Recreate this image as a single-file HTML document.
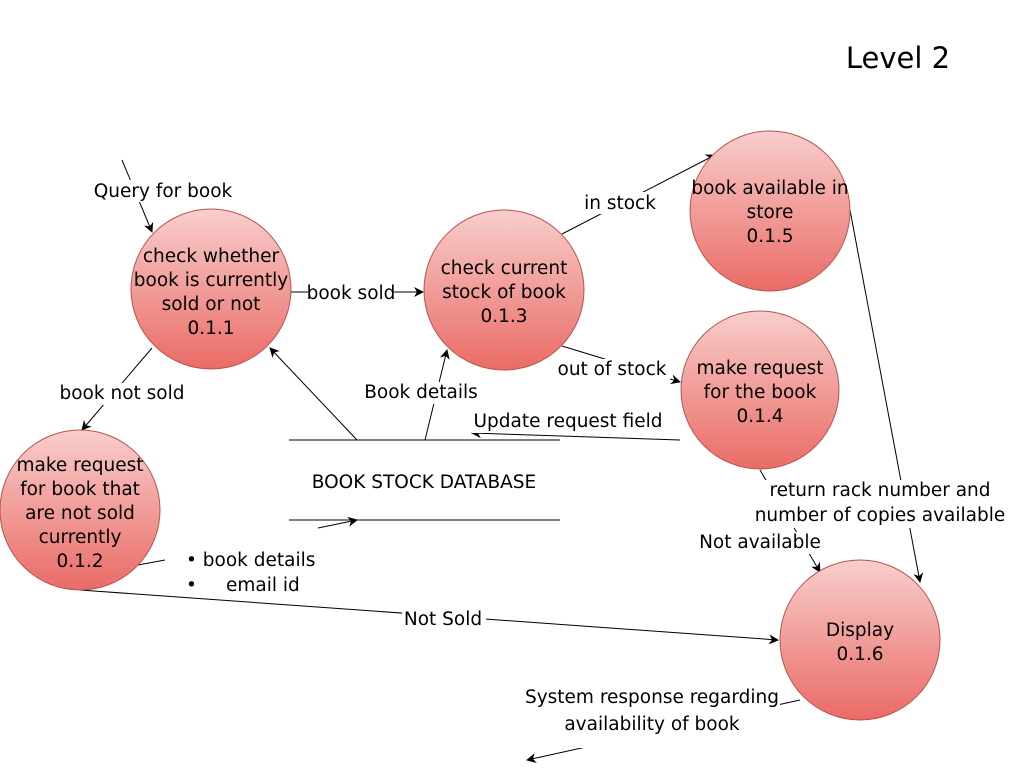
<!DOCTYPE html>
<html><head><meta charset="utf-8"><style>
html,body{margin:0;padding:0;background:#fff;}
svg{display:block;}
text{font-family:"DejaVu Sans","Liberation Sans",sans-serif;font-size:18.5px;fill:#000;}
</style></head><body>
<svg width="1010" height="770" viewBox="0 0 1010 770" xmlns="http://www.w3.org/2000/svg">
<defs>
<linearGradient id="g" x1="0" y1="0" x2="0" y2="1">
<stop offset="0" stop-color="#f8cecc"/><stop offset="1" stop-color="#ea6b66"/>
</linearGradient>
<marker id="a" markerWidth="10" markerHeight="10" refX="9" refY="5" orient="auto" markerUnits="userSpaceOnUse">
<path d="M0,0 L10,5 L0,10 L3,5 z" fill="#000"/>
</marker>
</defs>
<g stroke="#000" stroke-width="1" fill="none">
<line x1="122" y1="160" x2="152" y2="232" marker-end="url(#a)"/>
<line x1="291" y1="292" x2="423" y2="292" marker-end="url(#a)"/>
<line x1="562" y1="234" x2="715" y2="155" marker-end="url(#a)"/>
<line x1="562" y1="346" x2="680" y2="382" marker-end="url(#a)"/>
<line x1="152" y1="348" x2="82" y2="430" marker-end="url(#a)"/>
<line x1="289" y1="440" x2="560" y2="440"/>
<line x1="289" y1="520" x2="560" y2="520"/>
<line x1="357" y1="440" x2="270" y2="348" marker-end="url(#a)"/>
<line x1="425" y1="440" x2="447" y2="350" marker-end="url(#a)"/>
<line x1="680" y1="440" x2="472" y2="433" marker-end="url(#a)"/>
<line x1="318" y1="528" x2="357" y2="520" marker-end="url(#a)"/>
<line x1="138" y1="565" x2="165" y2="560"/>
<line x1="80" y1="590" x2="778" y2="640" marker-end="url(#a)"/>
<line x1="850" y1="210" x2="920" y2="582" marker-end="url(#a)"/>
<line x1="760" y1="470" x2="820" y2="572" marker-end="url(#a)"/>
<line x1="800" y1="700" x2="527" y2="760" marker-end="url(#a)"/>
</g>
<g fill="url(#g)" stroke="#b85450" stroke-width="1">
<circle cx="211" cy="289" r="80"/>
<circle cx="504" cy="290" r="80"/>
<circle cx="770" cy="211" r="80"/>
<circle cx="760" cy="390" r="79"/>
<circle cx="80" cy="510" r="80"/>
<circle cx="860" cy="640" r="80"/>
</g>
<g text-anchor="middle">
<text x="898" y="68" style="font-size:29px">Level 2</text>
<rect x="90" y="180" width="146" height="22" fill="#fff"/>
<text x="163" y="197">Query for book</text>
<rect x="308" y="283" width="86" height="20" fill="#fff"/>
<text x="351" y="299">book sold</text>
<rect x="584" y="192" width="74" height="22" fill="#fff"/>
<text x="620" y="209">in stock</text>
<rect x="556" y="359" width="114" height="22" fill="#fff"/>
<text x="612" y="375">out of stock</text>
<rect x="60" y="383" width="124" height="22" fill="#fff"/>
<text x="122" y="399">book not sold</text>
<rect x="364" y="382" width="114" height="22" fill="#fff"/>
<text x="421" y="398">Book details</text>
<rect x="472" y="411" width="194" height="22" fill="#fff"/>
<text x="568" y="427">Update request field</text>
<text x="424" y="488">BOOK STOCK DATABASE</text>
<rect x="402" y="609" width="84" height="22" fill="#fff"/>
<text x="443" y="625">Not Sold</text>
<rect x="758" y="480" width="246" height="48" fill="#fff"/>
<text x="880" y="496">return rack number and</text>
<text x="880" y="521">number of copies available</text>
<rect x="698" y="532" width="124" height="22" fill="#fff"/>
<text x="760" y="548">Not available</text>
<rect x="524" y="686" width="256" height="62" fill="#fff"/>
<text x="652" y="703">System response regarding</text>
<text x="652" y="730">availability of book</text>

<text x="211" y="262">check whether</text>
<text x="211" y="286">book is currently</text>
<text x="211" y="310">sold or not</text>
<text x="211" y="334">0.1.1</text>
<text x="504" y="274">check current</text>
<text x="504" y="298">stock of book</text>
<text x="504" y="322">0.1.3</text>
<text x="770" y="194">book available in</text>
<text x="770" y="218">store</text>
<text x="770" y="242">0.1.5</text>
<text x="760" y="374">make request</text>
<text x="760" y="398">for the book</text>
<text x="760" y="422">0.1.4</text>
<text x="80" y="471">make request</text>
<text x="80" y="495">for book that</text>
<text x="80" y="519">are not sold</text>
<text x="80" y="543">currently</text>
<text x="80" y="567">0.1.2</text>
<text x="860" y="636">Display</text>
<text x="860" y="660">0.1.6</text>
</g>
<text x="186" y="566">• book details</text>
<text x="186" y="591">•</text>
<text x="226" y="591">email id</text>
</svg>
</body></html>
